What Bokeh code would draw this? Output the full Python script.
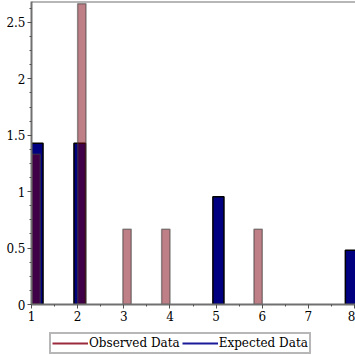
from bokeh.plotting import figure
from bokeh.models import (Range1d, FixedTicker, Legend, LegendItem, ColumnDataSource, Span)
from bokeh.layouts import column
from bokeh.embed import file_html
from bokeh.resources import INLINE

# Data
obs_left = [1.0, 2.0, 2.98, 3.82, 5.82]
obs_right = [1.19, 2.18, 3.16, 4.0, 6.0]
obs_val = [1.333, 2.667, 0.667, 0.667, 0.667]

exp_left = [1.0, 1.92, 4.93, 7.8]
exp_right = [1.25, 2.17, 5.17, 8.05]
exp_val = [1.43, 1.43, 0.955, 0.48]

x_ticks = [1, 2, 3, 4, 5, 6, 7, 8]
y_ticks = [0, 0.5, 1, 1.5, 2, 2.5]
series_names = ["Observed Data", "Expected Data"]

p = figure(width=355, height=325, output_backend="svg", toolbar_location=None,
           x_range=Range1d(1, 8.02), y_range=Range1d(0, 2.686),
           min_border_left=31, min_border_right=0, min_border_top=1, min_border_bottom=21)
p.background_fill_color = "white"
p.border_fill_color = "white"
p.outline_line_color = None
p.grid.visible = False

exp_src = ColumnDataSource(dict(left=exp_left, right=exp_right, top=exp_val, bottom=[0]*len(exp_val)))
obs_src = ColumnDataSource(dict(left=obs_left, right=obs_right, top=obs_val, bottom=[0]*len(obs_val)))

p.quad(left="left", right="right", top="top", bottom="bottom", source=exp_src,
       fill_color="#000080", line_color="black", line_width=1.5)
p.quad(left="left", right="right", top="top", bottom="bottom", source=obs_src,
       fill_color="#800010", fill_alpha=0.5, line_color="#404040", line_alpha=0.55, line_width=1.5)

p.add_layout(Span(location=2.686, dimension="width", line_color="#707070", line_width=2))

serif = "'DejaVu Serif', serif"
for ax in (p.xaxis[0], p.yaxis[0]):
    ax.axis_line_color = "#707070"
    ax.axis_line_width = 2
    ax.major_tick_line_color = "#505050"
    ax.minor_tick_line_color = "#505050"
    ax.major_tick_out = 4
    ax.major_tick_in = 0
    ax.minor_tick_out = 2
    ax.minor_tick_in = 0
    ax.major_label_text_font = serif
    ax.major_label_text_font_size = "12px"
    ax.major_label_text_color = "black"
    ax.major_label_standoff = 2

p.xaxis[0].ticker = FixedTicker(ticks=x_ticks, minor_ticks=[t + 0.5 for t in x_ticks[:-1]])
p.yaxis[0].ticker = FixedTicker(ticks=y_ticks, minor_ticks=[i * 0.125 for i in range(22)])

# Legend figure (legend only; its dummy lines lie outside the visible range)
lf = figure(width=355, height=30, output_backend="svg", toolbar_location=None,
            x_range=Range1d(0, 1), y_range=Range1d(0, 1),
            x_axis_location=None, y_axis_location=None,
            min_border_left=0, min_border_right=0, min_border_top=0, min_border_bottom=0)
lf.grid.visible = False
lf.outline_line_color = None
lf.border_fill_color = "white"
r_obs = lf.line(x=[5, 6], y=[5, 5], line_color="#9a2a3c", line_width=2)
r_exp = lf.line(x=[5, 6], y=[5, 5], line_color="#1a1a9a", line_width=2)

legend = Legend(items=[LegendItem(label=series_names[0], renderers=[r_obs]),
                       LegendItem(label=series_names[1], renderers=[r_exp])],
                orientation="horizontal", location=(18, 1))
legend.label_text_font = serif
legend.label_text_font_size = "12px"
legend.label_text_color = "black"
legend.border_line_color = "#707070"
legend.border_line_width = 2
legend.padding = 1
legend.margin = 0
legend.spacing = 2
legend.glyph_width = 36
legend.glyph_height = 16
legend.label_standoff = 1
legend.label_height = 16
legend.background_fill_alpha = 1
lf.add_layout(legend, "center")

layout = column(p, lf, spacing=0)
open("out.html", "w").write(file_html(layout, INLINE))
